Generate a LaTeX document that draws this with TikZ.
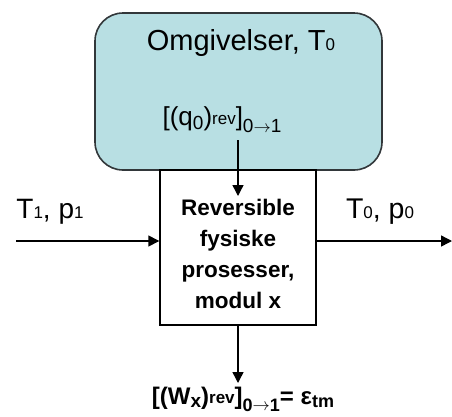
\documentclass[tikz,border=0pt]{standalone}
\usepackage{fontspec}
\setmainfont{Liberation Sans}
\usetikzlibrary{arrows.meta}
\definecolor{envfill}{RGB}{184,223,227}
\definecolor{envline}{RGB}{50,55,58}
\tikzset{
  envbox/.style={draw=envline, line width=1.6pt, fill=envfill, rounded corners=28pt},
  procbox/.style={draw=black, line width=1.4pt, fill=white},
  flow/.style={draw=black, line width=1.4pt, -{Triangle[length=11pt,width=11pt]}},
  lbl/.style={inner sep=0pt, anchor=center},
}
\newcommand{\sm}[1]{{\fontsize{17}{17}\selectfont #1}}
\newcommand{\arr}{\raisebox{0.5pt}{\fontsize{17}{17}\selectfont$\rightarrow$}}
\begin{document}
\begin{tikzpicture}[x=1pt,y=-1pt]
\useasboundingbox (0,0) rectangle (452,416);
% environment box
\draw[envbox] (95,13) rectangle (382,170);
\node[lbl] (env) at (241,43) {\fontsize{29}{29}\selectfont Omgivelser, T\sm{0}};
\node[lbl] (q) at (222,120) {\fontsize{26}{26}\selectfont [(q\raisebox{-4pt}{\fontsize{19}{19}\selectfont 0})\raisebox{1pt}{\fontsize{17}{17}\selectfont rev}]\raisebox{-7pt}{\fontsize{19}{19}\selectfont 0\arr1}};
% process box
\node[procbox, minimum width=156pt, minimum height=155pt, inner sep=0pt] (proc) at (238,247.5) {};
\node[lbl, align=center, font=\bfseries\fontsize{22.5}{31}\selectfont] (ptext) at (238,254) {Reversible\\fysiske\\prosesser,\\modul x};
% top arrow
\coordinate (qs) at (238,140);
\coordinate (qe) at (238,196);
\draw[flow] (qs) -- (qe);
% left arrow
\coordinate (ls) at (16,241);
\draw[flow] (ls) -- (proc.west |- ls);
\node[lbl] (t1) at (50,212) {\fontsize{28}{28}\selectfont T\sm{1}, p\sm{1}};
% right arrow
\coordinate (re) at (452,241);
\draw[flow] (proc.east |- re) -- (re);
\node[lbl] (t0) at (380,212) {\fontsize{28.5}{28}\selectfont T\sm{0}, p\sm{0}};
% bottom arrow
\coordinate (be) at (238,383);
\draw[flow] (proc.south) -- (be);
\node[lbl] (w) at (243,399) {\bfseries\fontsize{24}{24}\selectfont [(W\raisebox{-3pt}{\fontsize{19}{19}\selectfont x})\raisebox{1pt}{\fontsize{17}{17}\selectfont rev}]\raisebox{-7pt}{\fontsize{18}{18}\selectfont 0\arr1}= ε\raisebox{-3pt}{\fontsize{18}{18}\selectfont tm}};
\end{tikzpicture}
\end{document}
